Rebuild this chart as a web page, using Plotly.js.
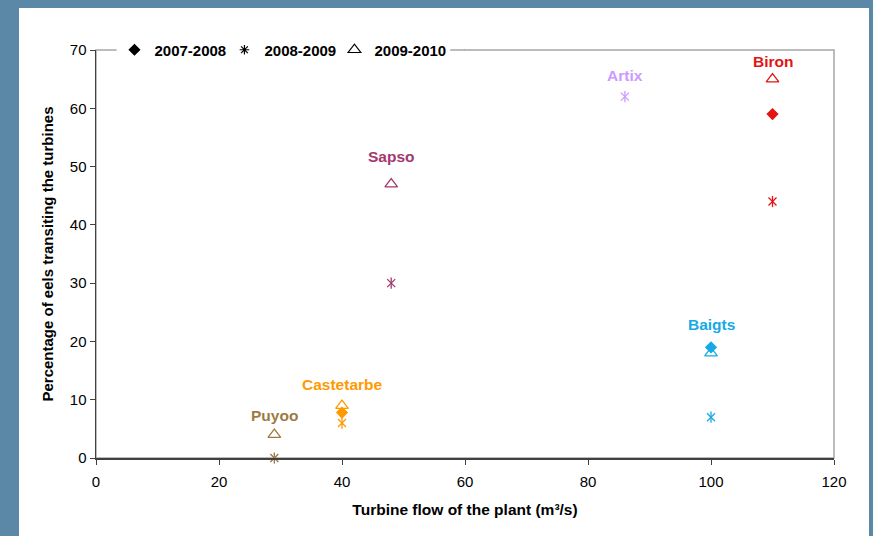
<!DOCTYPE html>
<html>
<head>
<meta charset="utf-8">
<script src="https://cdn.plot.ly/plotly-3.0.1.min.js"></script>
<style>
  html, body { margin: 0; padding: 0; }
  body { width: 873px; height: 536px; background: #5a88a6; position: relative; overflow: hidden; }
  #frame { position: absolute; left: 19px; top: 8px; width: 850px; height: 528px; background: #ffffff; }
  #chart { width: 850px; height: 528px; }
</style>
</head>
<body>
<div id="frame"><div id="chart"></div></div>
<script>
// ---- data ----
const sites = ['Puyoo', 'Castetarbe', 'Sapso', 'Artix', 'Baigts', 'Biron'];
const flow = [29, 40, 48, 86, 100, 110];
const y2007_2008 = [null, 7.8, null, null, 19, 59];
const y2008_2009 = [0, 6, 30, 62, 7, 44];
const y2009_2010 = [4, 9, 47, null, 18, 65];
const years = ['2007-2008', '2008-2009', '2009-2010'];
const xTicks = [0, 20, 40, 60, 80, 100, 120];
const yTicks = [0, 10, 20, 30, 40, 50, 60, 70];

// ---- style ----
const siteColors = ['#9c7b42', '#ff9900', '#a3386e', '#cc99ff', '#16a9e6', '#e31414'];
const labelShift = [19, 21, 28, 21, 23, 18];
const font = 'Liberation Sans, Arial, sans-serif';

const traces = [];
function pts(vals, symbol, size) {
  return {
    x: flow, y: vals, type: 'scatter', mode: 'markers', showlegend: false,
    hoverinfo: 'skip', cliponaxis: false,
    marker: { symbol: symbol, size: size, color: siteColors,
              line: { color: siteColors, width: 1.3 } }
  };
}
traces.push(pts(y2007_2008, 'diamond', 8));
traces.push(pts(y2008_2009, 'x-thin-open', 8));
traces.push(pts(y2008_2009, 'line-ns-open', 8));
traces.push(pts(y2009_2010, 'triangle-up-open', 11));

// legend entries (black symbols)
const legendSymbols = ['diamond', 'asterisk-open', 'triangle-up-open'];
const legendSizes = [8, 8, 11];
years.forEach((yr, i) => {
  traces.push({
    x: [null], y: [null], type: 'scatter', mode: 'markers', name: yr,
    showlegend: true,
    marker: { symbol: legendSymbols[i], size: legendSizes[i], color: '#000',
              line: { color: '#000', width: 1.2 } }
  });
});
// invisible spacer entry so the last legend label is not clipped
traces.push({
  x: [null], y: [null], type: 'scatter', mode: 'markers', name: ' ',
  showlegend: true, marker: { size: 1, opacity: 0 }
});

const annotations = sites.map((s, i) => {
  const vals = [y2007_2008[i], y2008_2009[i], y2009_2010[i]].filter(v => v !== null);
  return {
    x: flow[i], y: Math.max.apply(null, vals), xref: 'x', yref: 'y',
    text: '<b>' + s + '</b>', showarrow: false, yshift: labelShift[i],
    yanchor: 'middle', xanchor: 'center',
    font: { family: font, size: 15.5, color: siteColors[i] }
  };
});

const layout = {
  width: 850, height: 528,
  margin: { l: 77, r: 35, t: 42, b: 78 },
  paper_bgcolor: '#ffffff', plot_bgcolor: '#ffffff',
  font: { family: font, size: 15, color: '#000' },
  showlegend: true,
  legend: {
    orientation: 'h', x: 0.025, y: 1.0, xanchor: 'left', yanchor: 'middle',
    bgcolor: 'rgba(255,255,255,0)', font: { family: font, size: 15, color: '#000', weight: 'bold' },
    itemwidth: 30, traceorder: 'normal', entrywidth: 65
  },
  xaxis: {
    range: [0, 120], tickvals: xTicks, ticktext: xTicks.map(String),
    showgrid: false, zeroline: false, showline: true, linecolor: '#404040', linewidth: 1.5,
    ticks: 'outside', ticklen: 5, tickcolor: '#404040', tickwidth: 1,
    ticklabelstandoff: 4,
    tickfont: { family: font, size: 15, color: '#000' },
    title: { text: '<b>Turbine flow of the plant (m³/s)</b>', standoff: 15,
             font: { family: font, size: 15.5, color: '#000' } },
    automargin: false, fixedrange: true
  },
  yaxis: {
    range: [0, 70], tickvals: yTicks, ticktext: yTicks.map(String),
    showgrid: false, zeroline: false, showline: true, linecolor: '#404040', linewidth: 1.5,
    ticks: 'outside', ticklen: 5, tickcolor: '#404040', tickwidth: 1,
    tickfont: { family: font, size: 15, color: '#000' },
    title: { text: '<b>Percentage of eels transiting the turbines</b>', standoff: 12,
             font: { family: font, size: 15, color: '#000' } },
    automargin: false, fixedrange: true
  },
  shapes: [{
    type: 'rect', xref: 'paper', yref: 'paper', x0: 0, x1: 1, y0: 0, y1: 1,
    line: { color: '#a6a6a6', width: 1.5 }, layer: 'below'
  }, {
    type: 'rect', xref: 'paper', yref: 'paper', x0: 0.028, x1: 0.48, y0: 0.975, y1: 1.025,
    fillcolor: '#ffffff', line: { width: 0 }, layer: 'below'
  }],
  annotations: annotations
};

Plotly.newPlot('chart', traces, layout, { displayModeBar: false, staticPlot: true });
</script>
</body>
</html>
